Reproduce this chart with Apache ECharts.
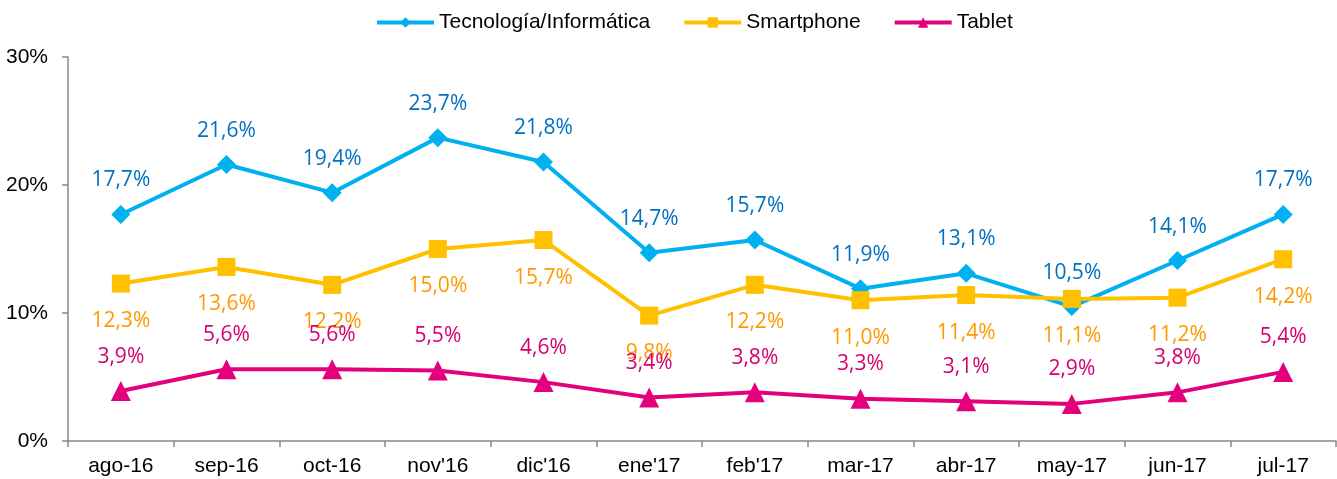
<!DOCTYPE html>
<html><head><meta charset="utf-8">
<script src="https://cdn.jsdelivr.net/npm/echarts@6/dist/echarts.min.js"></script>
<style>html,body{margin:0;padding:0;background:#fff}#c{width:1337px;height:479px}</style>
</head><body><div id="c"></div>
<script>
const categories = ["ago-16","sep-16","oct-16","nov'16","dic'16","ene'17","feb'17","mar-17","abr-17","may-17","jun-17","jul-17"];
const tecnologia = [17.7,21.6,19.4,23.7,21.8,14.7,15.7,11.9,13.1,10.5,14.1,17.7];
const smartphone = [12.3,13.6,12.2,15.0,15.7,9.8,12.2,11.0,11.4,11.1,11.2,14.2];
const tablet = [3.9,5.6,5.6,5.5,4.6,3.4,3.8,3.3,3.1,2.9,3.8,5.4];
const yTicks = [0,10,20,30];

const fmt = p => p.value.toFixed(1).replace('.', ',') + '%';
const labelFont = '"Open Sans", sans-serif';
const chart = echarts.init(document.getElementById('c'));
chart.setOption({
  animation: false,
  textStyle: {fontFamily: '"Liberation Sans", Arial, sans-serif'},
  legend: {
    top: 7, left: 370, itemWidth: 57, itemHeight: 13, itemGap: 32,
    lineStyle: {width: 4},
    textStyle: {fontSize: 21, color: '#000', fontFamily: '"Liberation Sans", Arial, sans-serif'},
    data: ['Tecnología/Informática','Smartphone','Tablet']
  },
  grid: {left: 68, right: 1, top: 57, bottom: 38},
  xAxis: {
    type: 'category', data: categories, boundaryGap: true,
    axisLine: {lineStyle: {color: '#888', width: 1.5}},
    axisTick: {show: true, length: 6, lineStyle: {color: '#888', width: 1.5}},
    axisLabel: {color: '#000', fontSize: 21, margin: 15}
  },
  yAxis: {
    type: 'value', min: yTicks[0], max: yTicks[yTicks.length-1], interval: 10,
    axisLine: {show: true, lineStyle: {color: '#888', width: 1.5}},
    axisTick: {show: true, length: 6, lineStyle: {color: '#888', width: 1.5}},
    splitLine: {show: false},
    axisLabel: {color: '#000', fontSize: 21, margin: 20, formatter: v => v + '%'}
  },
  series: [
    {name: 'Tecnología/Informática', type: 'line', data: tecnologia,
     symbol: 'diamond', symbolSize: 19,
     lineStyle: {color: '#00B0F0', width: 4}, itemStyle: {color: '#00B0F0'},
     label: {show: true, position: 'top', distance: 14, color: '#0070C0', fontSize: 21, fontFamily: labelFont, formatter: fmt}},
    {name: 'Smartphone', type: 'line', data: smartphone,
     symbol: 'rect', symbolSize: 18,
     lineStyle: {color: '#FFC000', width: 4}, itemStyle: {color: '#FFC000'},
     label: {show: true, position: 'bottom', distance: 18, color: '#FF9900', fontSize: 21, fontFamily: labelFont, formatter: fmt}},
    {name: 'Tablet', type: 'line', data: tablet,
     symbol: 'triangle', symbolSize: 20,
     lineStyle: {color: '#E4007C', width: 4}, itemStyle: {color: '#E4007C'},
     label: {show: true, position: 'top', distance: 14, color: '#D6006F', fontSize: 21, fontFamily: labelFont, formatter: fmt}}
  ]
});
</script></body></html>
